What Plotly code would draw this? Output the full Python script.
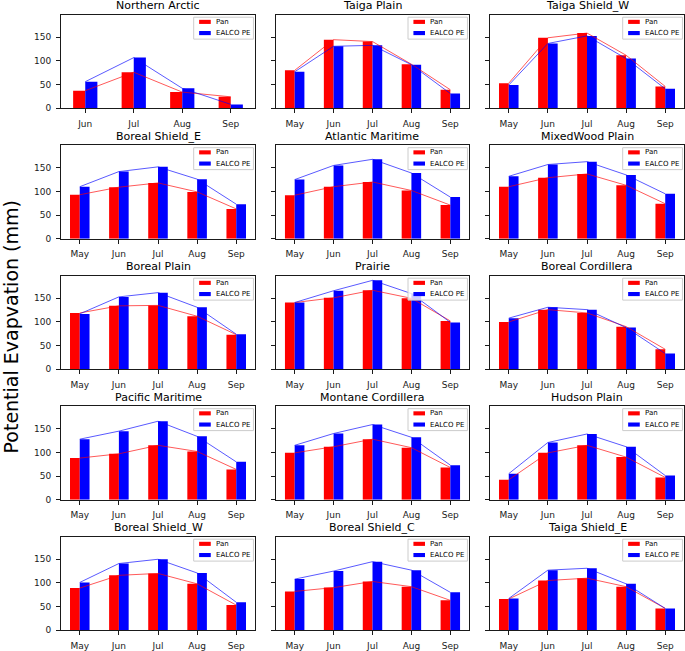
import plotly.graph_objects as go

# ---------------- data ----------------
regions = ["Northern Arctic", "Taiga Plain", "Taiga Shield_W",
           "Boreal Shield_E", "Atlantic Maritime", "MixedWood Plain",
           "Boreal Plain", "Prairie", "Boreal Cordillera",
           "Pacific Maritime", "Montane Cordillera", "Hudson Plain",
           "Boreal Shield_W", "Boreal Shield_C", "Taiga Shield_E"]

months_short = ["Jun", "Jul", "Aug", "Sep"]
months = ["May", "Jun", "Jul", "Aug", "Sep"]

pan_northern_arctic = [37, 76, 34, 24]
ealco_northern_arctic = [56, 107, 42, 8]
pan_taiga_plain = [80, 145, 141, 93, 39]
ealco_taiga_plain = [77, 131, 133, 92, 31]
pan_taiga_shield_w = [53, 149, 159, 112, 46]
ealco_taiga_shield_w = [49, 137, 153, 105, 41]
pan_boreal_shield_e = [93, 109, 118, 99, 63]
ealco_boreal_shield_e = [110, 142, 152, 126, 73]
pan_atlantic_maritime = [92, 110, 120, 102, 71]
ealco_atlantic_maritime = [125, 155, 168, 139, 88]
pan_mixedwood_plain = [110, 129, 137, 113, 74]
ealco_mixedwood_plain = [132, 157, 163, 135, 95]
pan_boreal_plain = [119, 134, 135, 112, 73]
ealco_boreal_plain = [117, 153, 162, 131, 74]
pan_prairie = [141, 151, 167, 150, 102]
ealco_prairie = [141, 166, 188, 160, 99]
pan_boreal_cordillera = [100, 126, 119, 90, 42]
ealco_boreal_cordillera = [108, 131, 126, 88, 33]
pan_pacific_maritime = [88, 97, 115, 102, 64]
ealco_pacific_maritime = [128, 145, 166, 134, 80]
pan_montane_cordillera = [99, 112, 128, 110, 68]
ealco_montane_cordillera = [115, 140, 159, 132, 73]
pan_hudson_plain = [42, 99, 115, 90, 47]
ealco_hudson_plain = [55, 121, 139, 112, 51]
pan_boreal_shield_w = [89, 116, 120, 98, 53]
ealco_boreal_shield_w = [101, 141, 150, 121, 59]
pan_boreal_shield_c = [82, 90, 103, 92, 63]
ealco_boreal_shield_c = [108, 125, 145, 127, 80]
pan_taiga_shield_e = [66, 105, 110, 92, 46]
ealco_taiga_shield_e = [67, 127, 131, 98, 46]

pan_all = [pan_northern_arctic, pan_taiga_plain, pan_taiga_shield_w,
           pan_boreal_shield_e, pan_atlantic_maritime, pan_mixedwood_plain,
           pan_boreal_plain, pan_prairie, pan_boreal_cordillera,
           pan_pacific_maritime, pan_montane_cordillera, pan_hudson_plain,
           pan_boreal_shield_w, pan_boreal_shield_c, pan_taiga_shield_e]
ealco_all = [ealco_northern_arctic, ealco_taiga_plain, ealco_taiga_shield_w,
             ealco_boreal_shield_e, ealco_atlantic_maritime, ealco_mixedwood_plain,
             ealco_boreal_plain, ealco_prairie, ealco_boreal_cordillera,
             ealco_pacific_maritime, ealco_montane_cordillera, ealco_hudson_plain,
             ealco_boreal_shield_w, ealco_boreal_shield_c, ealco_taiga_shield_e]

y_ticks = [0, 50, 100, 150]
series_names = ["Pan", "EALCO PE"]

# ---------------- layout geometry ----------------
W, H = 685, 651
col_px = [(61, 255), (276, 469), (490, 684)]
row_top0, row_pitch, row_h = 15, 131.5, 94
RED = "#ff0000"
BLUE = "#0000ff"
FONT = "DejaVu Sans"

fig = go.Figure()
layout = dict(
    width=W, height=H,
    margin=dict(l=0, r=0, t=0, b=0),
    paper_bgcolor="white", plot_bgcolor="white",
    showlegend=False,
    barmode="group", bargap=0.5, bargroupgap=0,
    font=dict(family=FONT, size=9, color="black"),
)
annotations = []
shapes = []

for i, name in enumerate(regions):
    r, c = divmod(i, 3)
    n = i + 1
    xa = "x" if n == 1 else f"x{n}"
    ya = "y" if n == 1 else f"y{n}"
    cats = months_short if i == 0 else months
    top = row_top0 + r * row_pitch
    bot = top + row_h
    x0, x1 = col_px[c]
    xdom = [x0 / W, x1 / W]
    ydom = [1 - bot / H, 1 - top / H]

    fig.add_trace(go.Bar(x=cats, y=pan_all[i], name=series_names[0],
                         marker=dict(color=RED, line=dict(width=0)),
                         xaxis=xa, yaxis=ya))
    fig.add_trace(go.Bar(x=cats, y=ealco_all[i], name=series_names[1],
                         marker=dict(color=BLUE, line=dict(width=0)),
                         xaxis=xa, yaxis=ya))
    fig.add_trace(go.Scatter(x=cats, y=pan_all[i], mode="lines",
                             line=dict(color="rgba(255,0,0,0.65)", width=1),
                             xaxis=xa, yaxis=ya, hoverinfo="skip"))
    fig.add_trace(go.Scatter(x=cats, y=ealco_all[i], mode="lines",
                             line=dict(color="rgba(0,0,255,0.65)", width=1),
                             xaxis=xa, yaxis=ya, hoverinfo="skip"))

    nc = len(cats)
    pad = 0.5 if i == 0 else 0.48
    axis_common = dict(showline=True, linecolor="#1a1a1a", linewidth=1, mirror=True,
                       ticks="outside", ticklen=4, tickwidth=1, tickcolor="#1a1a1a",
                       ticklabelstandoff=3,
                       showgrid=False, zeroline=False,
                       tickfont=dict(family=FONT, size=9, color="#1a1a1a"))
    layout["xaxis" if n == 1 else f"xaxis{n}"] = dict(
        domain=xdom, anchor=ya, type="category",
        range=[-pad, nc - 1 + pad], **axis_common)
    layout["yaxis" if n == 1 else f"yaxis{n}"] = dict(
        domain=ydom, anchor=xa, range=[0, 197.5],
        tickvals=y_ticks, showticklabels=(c == 0), **axis_common)

    # subplot title
    annotations.append(dict(text=name, x=(x0 + x1) / 2 / W, y=1 - (top - 0.5) / H,
                            xref="paper", yref="paper", xanchor="center", yanchor="bottom",
                            showarrow=False, font=dict(family=FONT, size=11, color="black")))

    # legend box (drawn in the subplot's domain coordinates)
    dx = f"{xa} domain"
    dy = f"{ya} domain"
    shapes.append(dict(type="rect", xref=dx, yref=dy, x0=0.684, x1=0.992, y0=0.74, y1=0.975,
                       line=dict(color="#cccccc", width=1), fillcolor="rgba(255,255,255,0.8)",
                       layer="above"))
    for k, (col, yc) in enumerate([(RED, 0.925), (BLUE, 0.805)]):
        shapes.append(dict(type="rect", xref=dx, yref=dy, x0=0.712, x1=0.772,
                           y0=yc - 0.022, y1=yc + 0.022,
                           line=dict(width=0), fillcolor=col, layer="above"))
        annotations.append(dict(text=series_names[k], xref=dx, yref=dy, x=0.79, y=yc,
                                xanchor="left", yanchor="middle", showarrow=False,
                                font=dict(family=FONT, size=7, color="black")))

annotations.append(dict(text="Potential Evapvation (mm)", x=11 / W, y=1 - 330 / H,
                        xref="paper", yref="paper", xanchor="center", yanchor="middle",
                        textangle=-90, showarrow=False,
                        font=dict(family=FONT, size=19, color="black")))

layout["annotations"] = annotations
layout["shapes"] = shapes
fig.update_layout(**layout)
fig.write_html(
    "out.html",
    config={"displayModeBar": False},
    post_script="document.body.style.margin='0px';document.body.style.padding='0px';"
                "document.body.style.overflow='hidden';"
                "document.documentElement.style.overflow='hidden';",
)
